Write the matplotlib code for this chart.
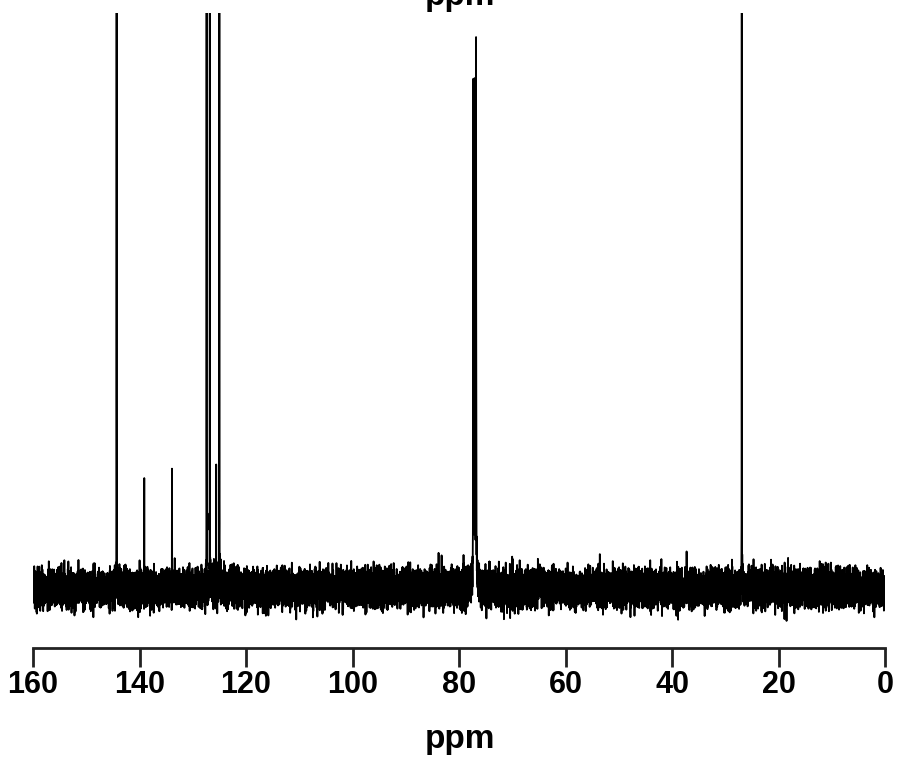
"""
13C NMR spectrum (CDCl3) - recreated
"""
import numpy as np
import matplotlib
matplotlib.use('Agg')
import matplotlib.pyplot as plt

# peaks: shift (ppm) and height above baseline
# (heights in the same units as the y axis; >575 means clipped at the top)
peak_ppm = [144.3, 139.1, 133.9, 127.4, 126.8, 125.6, 125.0,
            77.3, 77.05, 76.8, 26.9, 18.2]
peak_height = [1000, 110, 135, 1000, 1000, 114, 1000,
               493, 493, 530, 1000, 40]
peak_width = [0.02, 0.02, 0.02, 0.02, 0.02, 0.02, 0.02,
              0.06, 0.06, 0.06, 0.02, 0.02]

xticks = [160, 140, 120, 100, 80, 60, 40, 20, 0]

FONT = 'Liberation Sans'

# acquisition grid + baseline noise (texture only, fixed seed)
ppm = np.linspace(0, 160, 20000)
rng = np.random.default_rng(7)
spec = rng.normal(0, 9, ppm.size)
for p, h, w in zip(peak_ppm, peak_height, peak_width):
    spec += h * (w / 2) ** 2 / ((ppm - p) ** 2 + (w / 2) ** 2)

fig = plt.figure(figsize=(8.98, 7.61), dpi=100)
ax = fig.add_axes([33 / 898, 1 - 648 / 761, (885 - 33) / 898, (648 - 13) / 761])
ax.plot(ppm, spec, color='black', linewidth=1.3)

ax.set_xlim(160, 0)
ax.set_ylim(-60, 575)
for s in ['top', 'left', 'right']:
    ax.spines[s].set_visible(False)
ax.spines['bottom'].set_linewidth(2)
ax.spines['bottom'].set_color('#222222')
ax.set_yticks([])
ax.set_xticks(xticks)
ax.set_xticklabels([str(t) for t in xticks], fontsize=22, fontweight='bold', family=FONT)
ax.tick_params(axis='x', length=14, width=2, color='#222222', pad=2)

fig.text(460 / 898, 1 - 748 / 761, 'ppm', ha='center', va='baseline',
         fontsize=24, fontweight='bold', family=FONT)
# title clipped at the top edge, as in the source image
fig.text(460 / 898, 1 - 5 / 761, 'ppm', ha='center', va='baseline',
         fontsize=24, fontweight='bold', family=FONT)

plt.savefig('out.png', dpi=100, facecolor='white')
plt.close()
